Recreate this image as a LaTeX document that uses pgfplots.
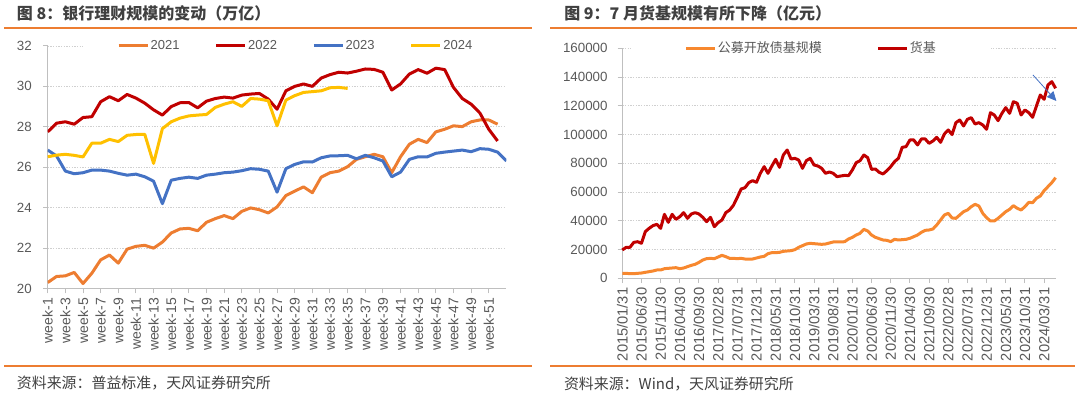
\documentclass[border=0pt]{standalone}
\usepackage{fontspec}
\setmainfont{Liberation Sans}
\newfontfamily\cjk{Noto Sans CJK SC}
\usepackage{pgfplots}
\pgfplotsset{compat=1.18}
\usetikzlibrary{arrows.meta}
\definecolor{c21}{HTML}{ED7D31}
\definecolor{c22}{HTML}{C00000}
\definecolor{c23}{HTML}{4472C4}
\definecolor{c24}{HTML}{FFC000}
\definecolor{bondc}{HTML}{F7882F}
\definecolor{mmfc}{HTML}{C00000}
\definecolor{axisgray}{HTML}{BFBFBF}
\definecolor{gridgray}{HTML}{D0D0D0}
\definecolor{labelgray}{HTML}{595959}
\definecolor{titlegray}{HTML}{404040}
\definecolor{rulec}{HTML}{ED7D31}
\pgfplotsset{
 mystyle/.style={
  scale only axis,
  axis lines*=left,
  axis line style={draw=axisgray, line width=0.75pt},
  tick style={draw=axisgray, line width=0.75pt},
  tick align=outside,
  major tick length=3.5pt,
  minor tick num=0,
  scaled ticks=false,
  ymajorgrids,
  major grid style={draw=gridgray, line width=0.6pt, dash pattern=on 1pt off 1pt},
  tick label style={font=\fontsize{10}{12}\selectfont, text=labelgray},
  legend style={draw=none, fill=white, font=\fontsize{9.75}{12}\selectfont, text=labelgray, legend columns=-1, nodes={inner sep=1pt}},
  legend image code/.code={\draw[#1] (0pt,0pt) -- (21.75pt,0pt);},
  every axis plot/.append style={line width=2.25pt, mark=none, line join=round},
 }
}
\begin{document}
\begin{tikzpicture}
\useasboundingbox (0,0) rectangle (810pt,294.75pt);
% titles and rules
\node[anchor=west, inner sep=0, text=titlegray, font=\cjk\bfseries\fontsize{12}{14}\selectfont] at (12.5pt,284.9pt) {图 8：银行理财规模的变动（万亿）};
\node[anchor=west, inner sep=0, text=titlegray, font=\cjk\bfseries\fontsize{12}{14}\selectfont] at (423pt,284.9pt) {图 9：7 月货基规模有所下降（亿元）};
\draw[rulec, line width=1.1pt] (3pt,273.8pt) -- (399pt,273.8pt);
\draw[rulec, line width=1.1pt] (412.5pt,273.8pt) -- (807.5pt,273.8pt);
\draw[rulec, line width=1.1pt] (3pt,20.4pt) -- (399pt,20.4pt);
\draw[rulec, line width=1.1pt] (412.5pt,20.4pt) -- (806pt,20.4pt);
\node[anchor=west, inner sep=0, text=titlegray, font=\cjk\fontsize{11.2}{13}\selectfont] at (12.5pt,7.5pt) {资料来源：普益标准，天风证券研究所};
\node[anchor=west, inner sep=0, text=titlegray, font=\cjk\fontsize{11.2}{13}\selectfont] at (422.8pt,6.9pt) {资料来源：Wind，天风证券研究所};

% left chart
\begin{axis}[mystyle,
  at={(35.8pt,78.3pt)}, anchor=south west,
  width=344pt, height=182pt,
  xmin=1, xmax=53, ymin=20, ymax=32,
  xtick={1,3,...,51},
  xticklabels={week-1,week-3,week-5,week-7,week-9,week-11,week-13,week-15,week-17,week-19,week-21,week-23,week-25,week-27,week-29,week-31,week-33,week-35,week-37,week-39,week-41,week-43,week-45,week-47,week-49,week-51},
  xticklabel style={rotate=90, anchor=east, font=\fontsize{10.5}{12}\selectfont},
  ytick={20,22,...,32},
  yticklabels={20,22,24,26,28,30,32},
  yticklabel style={xshift=-5pt},
  legend style={at={(0.54,1)}, anchor=center, inner xsep=26pt, inner ysep=2pt, /tikz/every even column/.append style={column sep=25.5pt}},
]
\addplot[c21] coordinates {(1,20.30)(2,20.60)(3,20.63)(4,20.80)(5,20.25)(6,20.76)(7,21.42)(8,21.66)(9,21.26)(10,21.95)(11,22.09)(12,22.14)(13,22.00)(14,22.30)(15,22.75)(16,22.95)(17,22.98)(18,22.86)(19,23.28)(20,23.46)(21,23.61)(22,23.46)(23,23.82)(24,23.99)(25,23.90)(26,23.74)(27,24.04)(28,24.60)(29,24.82)(30,25.03)(31,24.74)(32,25.51)(33,25.73)(34,25.81)(35,26.03)(36,26.39)(37,26.52)(38,26.64)(39,26.52)(40,25.73)(41,26.52)(42,27.14)(43,27.38)(44,27.22)(45,27.75)(46,27.88)(47,28.05)(48,28.01)(49,28.25)(50,28.34)(51,28.34)(52,28.13)};
\addlegendentry{2021}
\addplot[c22] coordinates {(1,27.75)(2,28.18)(3,28.25)(4,28.13)(5,28.46)(6,28.50)(7,29.24)(8,29.49)(9,29.29)(10,29.60)(11,29.42)(12,29.17)(13,28.84)(14,28.58)(15,29.00)(16,29.19)(17,29.20)(18,28.94)(19,29.27)(20,29.40)(21,29.47)(22,29.42)(23,29.57)(24,29.62)(25,29.65)(26,29.37)(27,28.87)(28,29.78)(29,30.00)(30,30.12)(31,30.00)(32,30.41)(33,30.58)(34,30.70)(35,30.66)(36,30.75)(37,30.86)(38,30.84)(39,30.70)(40,29.82)(41,30.12)(42,30.61)(43,30.83)(44,30.65)(45,30.90)(46,30.83)(47,29.95)(48,29.40)(49,29.12)(50,28.68)(51,27.88)(52,27.30)};
\addlegendentry{2022}
\addplot[c23] coordinates {(1,26.85)(2,26.56)(3,25.81)(4,25.68)(5,25.73)(6,25.86)(7,25.86)(8,25.81)(9,25.70)(10,25.61)(11,25.66)(12,25.53)(13,25.31)(14,24.20)(15,25.36)(16,25.45)(17,25.51)(18,25.45)(19,25.61)(20,25.66)(21,25.73)(22,25.76)(23,25.83)(24,25.93)(25,25.90)(26,25.81)(27,24.77)(28,25.93)(29,26.14)(30,26.27)(31,26.26)(32,26.47)(33,26.56)(34,26.57)(35,26.59)(36,26.42)(37,26.59)(38,26.47)(39,26.31)(40,25.53)(41,25.76)(42,26.39)(43,26.52)(44,26.51)(45,26.69)(46,26.75)(47,26.80)(48,26.85)(49,26.77)(50,26.92)(51,26.89)(52,26.75)(53,26.31)};
\addlegendentry{2023}
\addplot[c24] coordinates {(1,26.52)(2,26.60)(3,26.64)(4,26.59)(5,26.51)(6,27.19)(7,27.19)(8,27.38)(9,27.27)(10,27.58)(11,27.62)(12,27.63)(13,26.19)(14,27.91)(15,28.25)(16,28.43)(17,28.54)(18,28.58)(19,28.61)(20,28.96)(21,29.12)(22,29.24)(23,29.01)(24,29.40)(25,29.37)(26,29.29)(27,28.05)(28,29.32)(29,29.54)(30,29.70)(31,29.74)(32,29.78)(33,29.93)(34,29.95)(35,29.90)};
\addlegendentry{2024}
\end{axis}

% right chart
\begin{axis}[mystyle,
  at={(466.7pt,86pt)}, anchor=south west,
  width=325pt, height=172.5pt,
  xmin=0, xmax=113, ymin=0, ymax=160000,
  clip=false,
  xtick={0,5,...,110},
  xticklabels={2015/01/31,2015/06/30,2015/11/30,2016/04/30,2016/09/30,2017/02/28,2017/07/31,2017/12/31,2018/05/31,2018/10/31,2019/03/31,2019/08/31,2020/01/31,2020/06/30,2020/11/30,2021/04/30,2021/09/30,2022/02/28,2022/07/31,2022/12/31,2023/05/31,2023/10/31,2024/03/31},
  xticklabel style={rotate=90, anchor=east, font=\fontsize{11}{12}\selectfont},
  ytick={0,20000,...,160000},
  yticklabels={0,20000,40000,60000,80000,100000,120000,140000,160000},
  yticklabel style={xshift=-4pt},
  legend style={at={(0.4355,1.0)}, anchor=center, inner xsep=40pt, inner ysep=2pt, /tikz/every even column/.append style={column sep=40pt}},
]
\addplot[bondc] coordinates {(0,3480)(1,3480)(2,3250)(3,3250)(4,3480)(5,3710)(6,4170)(7,4640)(8,5100)(9,5800)(10,5800)(11,6720)(12,6960)(13,7190)(14,7420)(15,6720)(16,7190)(17,8120)(18,9040)(19,9740)(20,11130)(21,12750)(22,13680)(23,13910)(24,13680)(25,14840)(26,16000)(27,15070)(28,13910)(29,13910)(30,13680)(31,13910)(32,13450)(33,13450)(34,13450)(35,14150)(36,14840)(37,15300)(38,17160)(39,17860)(40,17860)(41,18090)(42,18780)(43,19020)(44,19250)(45,19940)(46,21570)(47,22730)(48,23890)(49,24350)(50,24120)(51,23890)(52,23650)(53,23890)(54,24580)(55,25280)(56,25280)(57,25280)(58,25510)(59,27360)(60,28520)(61,30150)(62,31310)(63,34090)(64,32930)(65,30150)(66,28520)(67,27600)(68,26670)(69,26440)(70,25510)(71,27130)(72,26670)(73,26900)(74,27130)(75,27830)(76,28990)(77,30150)(78,32000)(79,33390)(80,33630)(81,34320)(82,37100)(83,40580)(84,44060)(85,45220)(86,42000)(87,41740)(88,44060)(89,46380)(90,47540)(91,49860)(92,51480)(93,50320)(94,45220)(95,42210)(96,39890)(97,39890)(98,41740)(99,44060)(100,46380)(101,48000)(102,50550)(103,48700)(104,47540)(105,49860)(106,52870)(107,52640)(108,55660)(109,57280)(110,60990)(111,63770)(112,66560)(113,70030)};
\addlegendentry{\cjk 公募开放债基规模}
\addplot[mmfc] coordinates {(0,19700)(1,21570)(2,21570)(3,25000)(4,25500)(5,24350)(6,32470)(7,34790)(8,36640)(9,37570)(10,34800)(11,44520)(12,38960)(13,44520)(14,41050)(15,42900)(16,45680)(17,41740)(18,44760)(19,45680)(20,44760)(21,42440)(22,39420)(23,42440)(24,35940)(25,38730)(26,40580)(27,45680)(28,47500)(29,50900)(30,56350)(31,62150)(32,63080)(33,66560)(34,67950)(35,66790)(36,73050)(37,77690)(38,73050)(39,78150)(40,82790)(41,77220)(42,85800)(43,89280)(44,83020)(45,83480)(46,82320)(47,76530)(48,81860)(49,83480)(50,78850)(51,78150)(52,76530)(53,73050)(54,73980)(55,73050)(56,70730)(57,71200)(58,71660)(59,71430)(60,75370)(61,80470)(62,81860)(63,85800)(64,83950)(65,75830)(66,76060)(67,73750)(68,72590)(69,74900)(70,77690)(71,81170)(72,83480)(73,91140)(74,91600)(75,96240)(76,96240)(77,92760)(78,96940)(79,96940)(80,93920)(81,95540)(82,98090)(83,94620)(84,100410)(85,103200)(86,100000)(87,108300)(88,110150)(89,105980)(90,110620)(91,111780)(92,107370)(93,108300)(94,106680)(95,103660)(96,115250)(97,113630)(98,109690)(99,114790)(100,118730)(101,114790)(102,122910)(103,121750)(104,113630)(105,117110)(106,115250)(107,112010)(108,119890)(109,127540)(110,124530)(111,134500)(112,136820)(113,132180)};
\addlegendentry{\cjk 货基}
\draw[c23, line width=0.6pt, -{Triangle[length=7pt,width=6.5pt]}] (axis cs:107.1,141460) -- (axis cs:113.2,123370);
\end{axis}
\end{tikzpicture}
\end{document}
